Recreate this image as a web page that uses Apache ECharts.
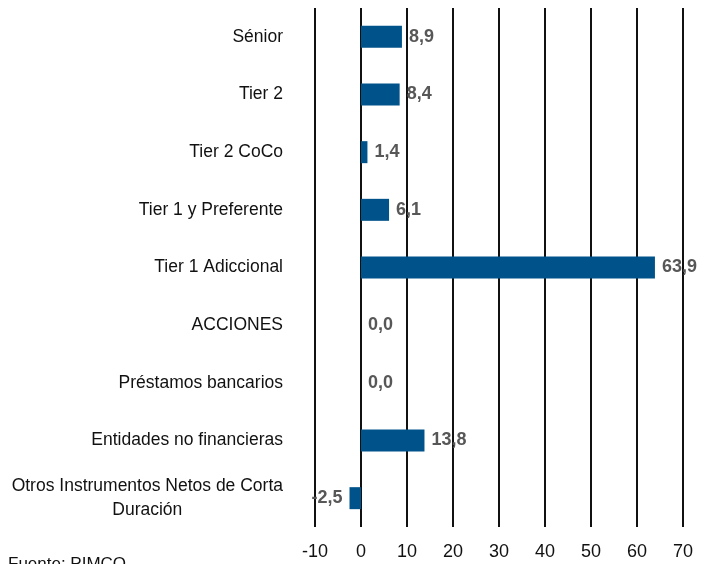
<!DOCTYPE html>
<html><head><meta charset="utf-8">
<script src="https://cdn.jsdelivr.net/npm/echarts@6/dist/echarts.min.js"></script>
<style>html,body{margin:0;padding:0;background:#fff}#c{width:714px;height:564px}</style>
</head><body><div id="c"></div>
<script>
const categories = ["Sénior","Tier 2","Tier 2 CoCo","Tier 1 y Preferente","Tier 1 Adiccional","ACCIONES","Préstamos bancarios","Entidades no financieras","Otros Instrumentos Netos de Corta\nDuración"];
const values = [8.9, 8.4, 1.4, 6.1, 63.9, 0.0, 0.0, 13.8, -2.5];
const xTicks = [-10,0,10,20,30,40,50,60,70];

const FONT = '"Liberation Sans Narrow", "Arial Narrow", "Liberation Sans", sans-serif';
const chart = echarts.init(document.getElementById('c'));
chart.setOption({
  animation:false,
  grid:{left:315,right:31,top:8,bottom:37,containLabel:false},
  xAxis:{type:'value',min:xTicks[0],max:xTicks[xTicks.length-1],interval:10,
    axisLine:{show:false},axisTick:{show:false},
    splitLine:{show:true,lineStyle:{color:'#111',width:2}},
    axisLabel:{fontFamily:FONT,fontSize:18,color:'#111',margin:16}},
  yAxis:{type:'category',inverse:true,data:categories,
    axisLine:{show:false},axisTick:{show:false},
    axisLabel:{fontFamily:FONT,fontSize:17.5,color:'#111',margin:32,align:'right',
      formatter:v=>'{a|'+v.split('\n').join('}\n{a|')+'}',
      rich:{a:{align:'center',fontFamily:FONT,fontSize:17.5,color:'#111',lineHeight:24}}}},
  series:[{type:'bar',barWidth:22,
    data:values.map(v=>({value:v,label:{position:v<0?'left':'right'}})),
    itemStyle:{color:'#00538A'},
    label:{show:true,distance:7,fontFamily:FONT,fontSize:18,fontWeight:'bold',color:'#575757',
      formatter:p=>p.value.toFixed(1).replace('.',',')}}],
  graphic:[{type:'text',left:8,top:556,style:{text:'Fuente: PIMCO',fontFamily:FONT,fontSize:17,fill:'#111'}}]
});
</script></body></html>
